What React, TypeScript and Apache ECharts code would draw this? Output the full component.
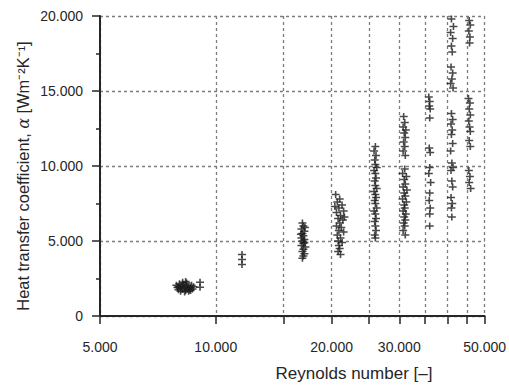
import React, { useEffect, useRef } from "react";
import * as echarts from "echarts";

// Measured heat transfer coefficient vs. Reynolds number, grouped by test run
const run1: number[][] = [
  [7900, 2050], [8000, 1950], [8050, 2150], [8100, 1850], [8150, 2000], [8200, 1800],
  [8250, 2100], [8300, 1900], [8350, 1700], [8400, 2000], [8450, 1850], [8500, 1950],
  [8550, 1750], [8600, 1900], [8650, 2050], [8700, 1800], [8100, 1650], [8300, 1600],
  [8200, 2250], [8400, 2200], [8000, 1750], [8500, 1650], [8750, 1950], [7950, 1900],
  [8600, 1700], [8350, 2300],
];
const run2: number[][] = [[9100, 2250], [9100, 1920]];
const run3: number[][] = [[11700, 4100], [11700, 3770], [11700, 3430]];
const run4: number[][] = [
  [16800, 6200], [16900, 6000], [16700, 5800], [17000, 5650], [16800, 5500], [16900, 5350],
  [16700, 5200], [17000, 5100], [16800, 5000], [16900, 4850], [16700, 4700], [17100, 4600],
  [16900, 4450], [16800, 4300], [17000, 4150], [16900, 4000], [16800, 3850], [17050, 5900],
  [16650, 5450], [17000, 4900],
];
const run5: number[][] = [
  [20500, 8100], [21000, 7800], [20700, 7600], [21300, 7400], [20900, 7200], [21500, 7000],
  [20600, 6900], [21100, 6700], [20800, 6500], [21400, 6400], [21000, 6200], [20600, 6000],
  [21200, 5900], [20900, 5700], [21500, 5600], [20700, 5400], [21100, 5200], [20800, 5000],
  [21300, 4900], [20900, 4700], [21000, 4500], [20800, 4300], [21100, 4100], [21600, 6600],
  [20400, 7300],
];
const run6: number[][] = [
  [26000, 11300], [25800, 11000], [26100, 10700], [25900, 10400], [26000, 10100], [26200, 9900],
  [25800, 9700], [26000, 9500], [26100, 9200], [25900, 9000], [26000, 8700], [26200, 8500],
  [25800, 8300], [26000, 8100], [26100, 7900], [25900, 7700], [26000, 7500], [26200, 7200],
  [25800, 7000], [26000, 6800], [26100, 6500], [25900, 6300], [26000, 6000], [26100, 5700],
  [25900, 5400], [26000, 5200],
];
const run7: number[][] = [
  [30800, 13300], [31000, 12900], [30700, 12600], [31200, 12400], [30900, 12200], [31100, 11900],
  [30800, 11600], [31000, 11300], [30700, 11000], [31100, 10700],
  [31000, 9800], [30600, 9500], [31300, 9300], [30900, 9100], [31100, 8800], [30700, 8600],
  [31400, 8400], [30900, 8200], [31100, 8000], [30600, 7800], [31300, 7600], [30900, 7400],
  [31000, 7200], [30700, 7000], [31200, 6800], [30900, 6600], [31100, 6400], [30800, 6200],
  [31000, 6000], [30700, 5700], [31100, 5400],
];
const run8: number[][] = [
  [35800, 14600], [36000, 14300], [35900, 14000], [36100, 13800], [36000, 13200], [35900, 11200],
  [36100, 10900], [36000, 9900], [35800, 9500], [36200, 8900], [36000, 8200], [35900, 7700],
  [36100, 7200], [36000, 6800], [36000, 6000],
];
const run9: number[][] = [
  [41000, 19800], [41500, 19300], [40800, 18900], [41300, 18500], [41000, 18000], [41200, 17600],
  [40900, 16600], [41300, 16200], [41100, 15800], [40800, 15500], [41400, 15200], [41000, 13500],
  [41300, 13100], [40900, 12800], [41200, 12400], [41000, 12100], [41300, 11500], [40800, 11000],
  [41100, 10200], [41400, 9900], [40900, 9700], [41100, 9000], [41300, 8600], [40900, 7900],
  [41200, 7500], [41000, 7200], [41100, 6600],
];
const run10: number[][] = [
  [45600, 19700], [45900, 19400], [45500, 19000], [45800, 18600], [45700, 18200],
  [45400, 14500], [45800, 14200], [45600, 13800], [45900, 13400], [45500, 13000], [45700, 12600],
  [45900, 12300], [45600, 11700], [45900, 11300], [45500, 9700], [45800, 9300], [45600, 8900],
  [46000, 8500],
];

// Axis ticks and labels
const reynoldsTicks = [5000, 10000, 15000, 20000, 25000, 30000, 35000, 40000, 45000, 50000];
const reynoldsLabels = [5000, 10000, 20000, 30000, 50000];
const alphaTicks = [0, 5000, 10000, 15000, 20000];

const FONT = "'Liberation Sans', Arial, Helvetica, sans-serif";
const INK = "#262626";
const GRID = "#7c7c7c";

// Thousands separated with a dot, e.g. 20.000
const fmt = (v: number) => String(Math.round(v)).replace(/\B(?=(\d{3})+(?!\d))/g, ".");

const PLUS = "path://M0,4H10V6H0Z M4,0H6V10H4Z";

export default function App() {
  const ref = useRef<HTMLDivElement>(null);

  useEffect(() => {
    if (!ref.current) return;
    const chart = echarts.init(ref.current, null, { renderer: "svg" });
    const points = [...run1, ...run2, ...run3, ...run4, ...run5, ...run6, ...run7, ...run8, ...run9, ...run10];

    chart.setOption({
      animation: false,
      backgroundColor: "#ffffff",
      grid: { left: 100, right: 21, top: 16, bottom: 69 },
      xAxis: {
        type: "log",
        logBase: 10,
        min: 5000,
        max: 50000,
        axisLine: { show: true, lineStyle: { color: INK, width: 2 } },
        axisTick: {
          show: true,
          inside: false,
          length: 8,
          customValues: reynoldsTicks,
          lineStyle: { color: INK, width: 1.5 },
        },
        axisLabel: {
          customValues: reynoldsLabels,
          formatter: (v: number) => fmt(v),
          margin: 24,
          fontFamily: FONT,
          fontSize: 14,
          color: INK,
        },
        splitLine: {
          show: true,
          lineStyle: { color: GRID, width: 1.3, type: [3, 3] },
        },
        minorTick: { show: false },
        minorSplitLine: { show: false },
      },
      yAxis: {
        type: "value",
        min: 0,
        max: 20000,
        interval: 5000,
        axisLine: { show: true, lineStyle: { color: INK, width: 2 } },
        axisTick: { show: true, inside: false, length: 8, lineStyle: { color: INK, width: 1.5 } },
        minorTick: { show: true, splitNumber: 2, length: 4, lineStyle: { color: INK, width: 1.5 } },
        axisLabel: {
          customValues: alphaTicks,
          formatter: (v: number) => fmt(v),
          margin: 17,
          fontFamily: FONT,
          fontSize: 14,
          color: INK,
        },
        splitLine: {
          show: true,
          lineStyle: { color: GRID, width: 1.3, type: [3, 3] },
        },
      },
      graphic: [
        {
          type: "text",
          x: 23,
          y: 176,
          rotation: Math.PI / 2,
          style: {
            text: "{t|Heat transfer coefficient, }{a|α}{t| [Wm⁻²K⁻¹]}",
            align: "center",
            verticalAlign: "middle",
            rich: {
              t: { fontFamily: FONT, fontSize: 16.4, fill: INK },
              a: { fontFamily: "'DejaVu Serif', 'Liberation Serif', serif", fontStyle: "italic", fontSize: 16, fill: INK },
            },
          },
        },
        {
          type: "text",
          x: 354,
          y: 373,
          style: {
            text: "Reynolds number [–]",
            align: "center",
            verticalAlign: "middle",
            fontFamily: FONT,
            fontSize: 17,
            fill: INK,
          },
        },
      ],
      series: [
        {
          type: "scatter",
          data: points,
          symbol: PLUS,
          symbolSize: [8, 7],
          itemStyle: { color: "#1c1c1c", opacity: 0.8 },
          silent: true,
        },
      ],
    });

    return () => chart.dispose();
  }, []);

  return (
    <div
      ref={ref}
      style={{ position: "absolute", left: 0, top: 0, width: 509, height: 385 }}
    />
  );
}
